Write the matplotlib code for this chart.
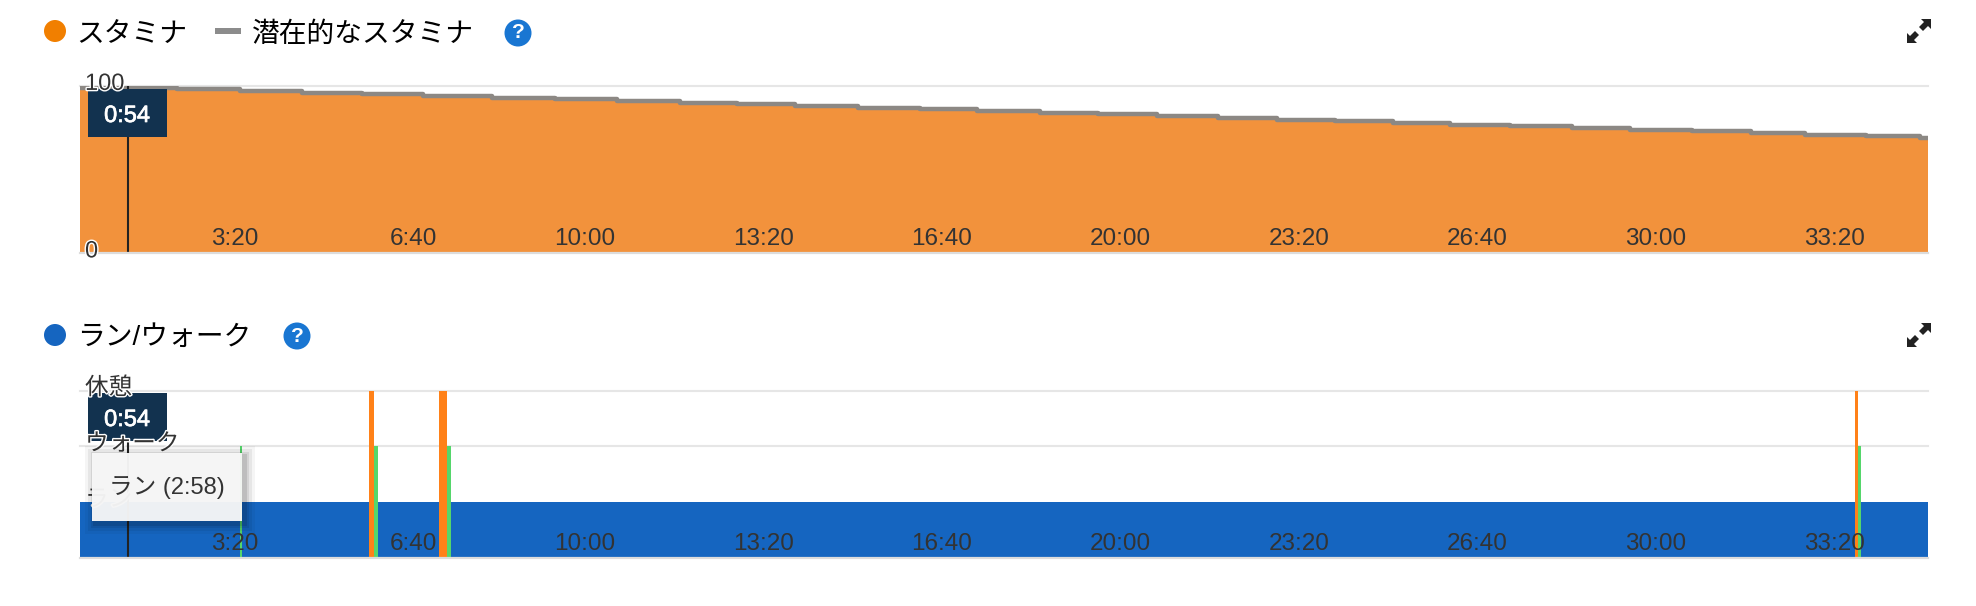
import matplotlib
matplotlib.use("Agg")
import matplotlib.pyplot as plt
import matplotlib.patheffects as pe
from matplotlib.patches import Circle, Rectangle, Polygon
from matplotlib.transforms import Affine2D

plt.rcParams['font.family'] = ['Liberation Sans', 'Noto Sans CJK JP', 'DejaVu Sans']

# stamina: seconds where it drops, and the value held up to each drop
step_times = [0, 109, 179, 249, 316, 384, 462, 532, 602, 672, 736, 801, 872, 941, 1005, 1076,
              1141, 1207, 1275, 1342, 1406, 1471, 1535, 1602, 1672, 1737, 1807, 1873, 1933,
              2002, 2062, 2071]
stamina = [99, 98, 97, 96, 95, 94, 93, 92, 91, 90, 89, 88, 87, 86, 85, 84,
           83, 82, 81, 80, 79, 78, 77, 76, 75, 74, 73, 72, 71, 70, 69, 69]

# run/walk: 1 = run, 2 = walk, 3 = rest
seg_start = [0, 179, 181, 324, 329.5, 334, 402, 411, 415.5, 1989.5, 1993, 1995.5]
seg_end = [179, 181, 324, 329.5, 334, 402, 411, 415.5, 1989.5, 1993, 1995.5, 2071]
seg_level = [1, 2, 1, 3, 2, 1, 3, 2, 1, 3, 2, 1]

x_ticks = [200, 400, 600, 800, 1000, 1200, 1400, 1600, 1800, 2000]
x_labels = ['3:20', '6:40', '10:00', '13:20', '16:40', '20:00', '23:20', '26:40', '30:00', '33:20']
cursor_time = 54
W, H = 1976, 606

ORANGE = '#F17F00'
BLUE = '#1565C0'
level_colors = {1: BLUE, 2: '#55D66B', 3: '#FF8118'}
halo = [pe.withStroke(linewidth=2, foreground='white')]

fig = plt.figure(figsize=(W / 100, H / 100), dpi=100)
# pixel coordinates for the page furniture, y going down
px = Affine2D().scale(1 / W, -1 / H).translate(0, 1) + fig.transFigure


def make_axes(top, bottom):
    ax = fig.add_axes([80 / W, 1 - bottom / H, 1848 / W, (bottom - top) / H])
    ax.set_xlim(0, 2071)
    for s in ['top', 'left', 'right']:
        ax.spines[s].set_visible(False)
    ax.spines['bottom'].set_color('#dcdcdc')
    ax.spines['bottom'].set_linewidth(1.6)
    ax.set_yticks([])
    ax.set_xticks(x_ticks, x_labels)
    ax.tick_params(axis='x', length=0, pad=-18, labelsize=17.5, labelcolor='#333333')
    for lab in ax.get_xticklabels():
        lab.set_ha('right')
    return ax


def page_text(x, y, s, **kw):
    fig.text(x, y, s, transform=px, va='center', **kw)


def help_icon(x, y):
    fig.add_artist(Circle((x, y), 13.5, transform=px, color='#1976D2', lw=0))
    page_text(x, y, '?', ha='center', color='white', fontsize=15, fontweight='bold')


def expand_icon(dy):
    up = [(1921, 19), (1931, 19), (1931, 29), (1928, 26), (1923, 31), (1919, 27), (1924, 22)]
    down = [(3838 - a, 62 - b) for a, b in up]
    for pts in (up, down):
        fig.add_artist(Polygon([(a, b + dy) for a, b in pts], transform=px, color='#222222', lw=0))


def cursor(ax, box_top):
    ax.axvline(cursor_time, color='#222222', lw=1.5, zorder=2)
    ax.add_patch(Rectangle((88, box_top), 79, 48, transform=px, color='#12324F', lw=0,
                           zorder=3, clip_on=False))
    ax.text(127, box_top + 27, '0:' + str(cursor_time), transform=px, color='white', fontsize=17,
            ha='center', va='center', zorder=3.1, clip_on=False,
            path_effects=[pe.withStroke(linewidth=0.5, foreground='white')])


def y_label(ax, value, s):
    ax.annotate(s, (0, value), xycoords=ax.get_yaxis_transform(), xytext=(3.6, 1.5),
                textcoords='offset points', ha='left', va='center', fontsize=17,
                color='#333333', path_effects=halo, zorder=4, annotation_clip=False)


# stamina chart
ax1 = make_axes(86, 253.5)
ax1.set_ylim(0, 100)
ax1.axhline(100, color='#e6e6e6', lw=1.5, zorder=0.5, clip_on=False)
ax1.fill_between(step_times, stamina, step='post', color='#F2923C', lw=0, zorder=1)
ax1.step(step_times, stamina, where='post', color='#8C8884', lw=3.2, zorder=1.8)
cursor(ax1, 89)
y_label(ax1, 100, '100')
y_label(ax1, 0, '0')

# run/walk chart
ax2 = make_axes(390.5, 558)
ax2.set_ylim(0, 3)
for level in [2, 3]:
    ax2.axhline(level, color='#e6e6e6', lw=1.5, zorder=0.5, clip_on=False)
widths = [e - s for s, e in zip(seg_start, seg_end)]
ax2.bar(seg_start, seg_level, width=widths, align='edge', lw=0, zorder=1,
        color=[level_colors[v] for v in seg_level])
cursor(ax2, 393)
y_label(ax2, 3, '休憩')
y_label(ax2, 2, 'ウォーク')
y_label(ax2, 1, 'ラン')

# hover tooltip with a soft shadow
for grow, a in [(10, 0.04), (7, 0.06), (4, 0.08), (2, 0.1)]:
    ax2.add_patch(Rectangle((92 + 3 - grow, 453 + 3 - grow), 150 + 2 * grow, 68 + 2 * grow,
                            transform=px, color='black', alpha=a, lw=0, zorder=5, clip_on=False))
ax2.add_patch(Rectangle((92, 453), 150, 68, transform=px, color='#F8F8F8', alpha=0.96, lw=0,
                        zorder=5.1, clip_on=False))
ax2.text(167, 488, 'ラン (2:58)', transform=px, color='#333333', fontsize=17, ha='center',
         va='center', zorder=5.2, clip_on=False)

# legends
fig.add_artist(Circle((55, 31), 11, transform=px, color=ORANGE, lw=0))
page_text(76, 35, 'スタミナ', color='black', fontsize=20)
fig.add_artist(Rectangle((215, 28), 26, 6, transform=px, color='#8C8C8C', lw=0))
page_text(252, 35, '潜在的なスタミナ', color='black', fontsize=20)
help_icon(518, 33)
expand_icon(0)

fig.add_artist(Circle((55, 335), 11, transform=px, color=BLUE, lw=0))
page_text(77, 338, 'ラン/ウォーク', color='black', fontsize=20)
help_icon(297, 336)
expand_icon(304)

fig.savefig('out.png', dpi=100)
